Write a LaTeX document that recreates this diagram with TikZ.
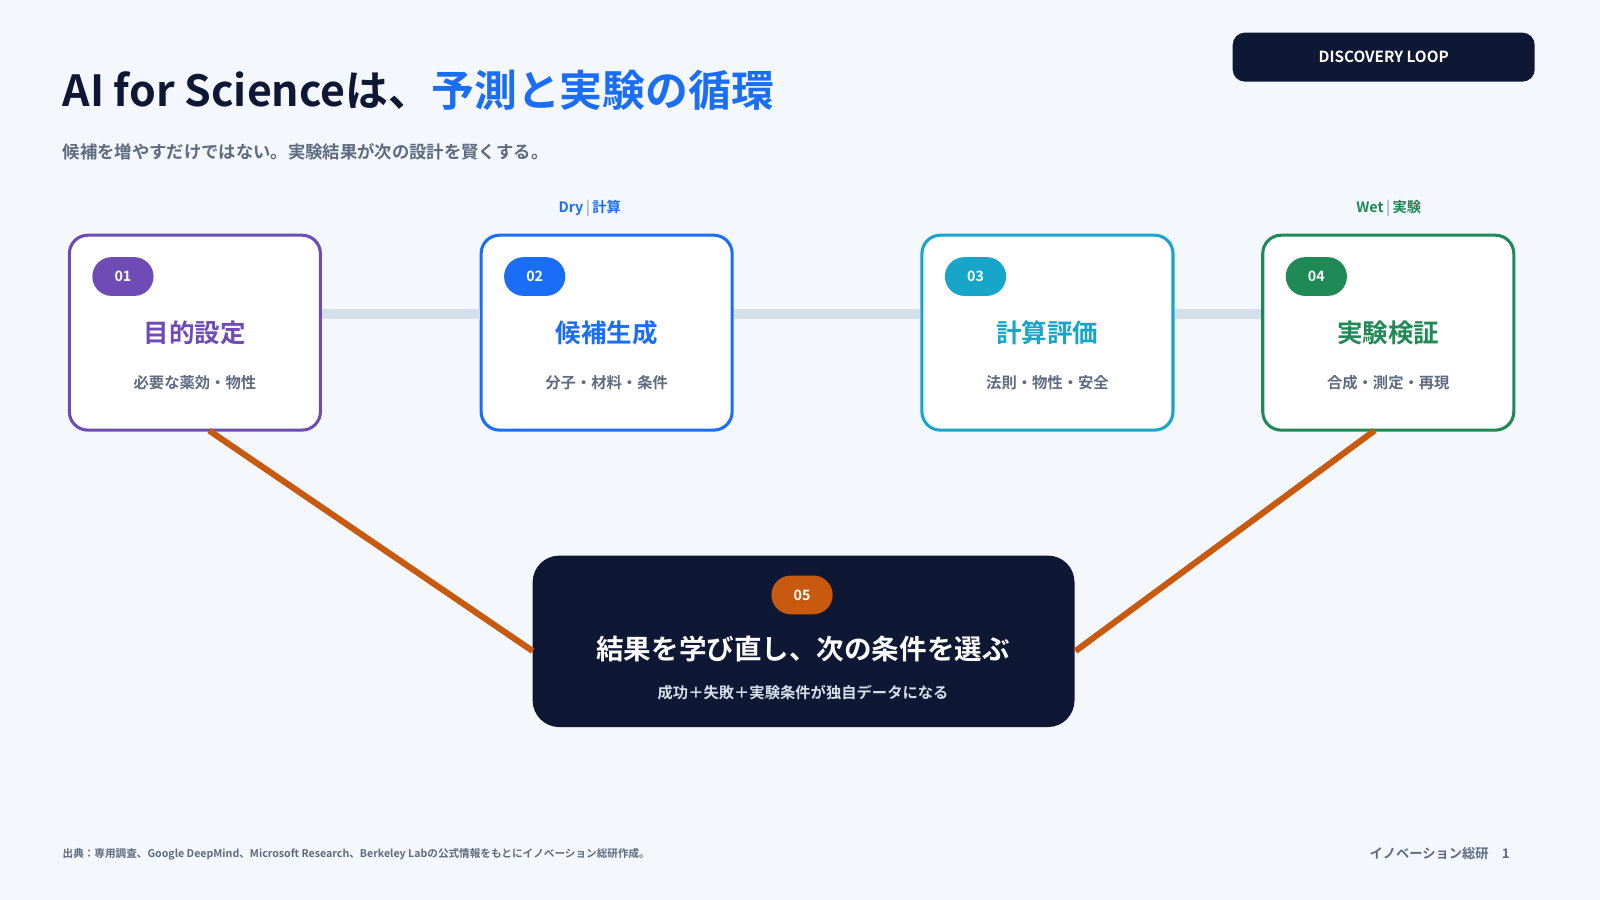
\documentclass[tikz,border=0pt]{standalone}
\usepackage{fontspec}
\setmainfont{Noto Sans CJK JP}[BoldFont={* Bold}]
\definecolor{bg}{HTML}{F4F7FC}
\definecolor{navy}{HTML}{0E1733}
\definecolor{cp}{HTML}{6F4BB5}
\definecolor{cb}{HTML}{1A6EF5}
\definecolor{cc}{HTML}{17A6C9}
\definecolor{cg}{HTML}{1F8A55}
\definecolor{co}{HTML}{C85A0F}
\definecolor{gr}{HTML}{5F6B80}
\definecolor{rail}{HTML}{D5DFEA}
\begin{document}
\begin{tikzpicture}[x=0.5pt,y=-0.5pt,
 card/.style={draw=#1,line width=1.5pt,fill=white,rounded corners=9pt,minimum width=123pt,minimum height=95.5pt,inner sep=0pt},
 badge/.style={fill=#1,rounded corners=9.5pt,minimum width=30pt,minimum height=19pt,inner sep=0pt,text=white,font=\bfseries\fontsize{7}{8}\selectfont},
 ctitle/.style={text=#1,font=\bfseries\fontsize{12.5}{14}\selectfont},
 csub/.style={text=gr,font=\bfseries\fontsize{7.5}{9}\selectfont},
 tag/.style={text=#1,font=\bfseries\fontsize{7}{8}\selectfont}]
\fill[bg] (0,0) rectangle (1568,882);
\useasboundingbox (0,0) rectangle (1568,882);
\node[anchor=west,font=\bfseries\fontsize{21}{25}\selectfont,text=navy,inner sep=0] (title) at (61,88) {AI for Scienceは、\textcolor{cb}{予測と実験の循環}};
\node[anchor=west,font=\bfseries\fontsize{8.5}{10}\selectfont,text=gr,inner sep=0] (sub) at (61,149) {候補を増やすだけではない。実験結果が次の設計を賢くする。};
\node[fill=navy,rounded corners=6pt,minimum width=148pt,minimum height=24pt,text=white,font=\bfseries\fontsize{7.5}{9}\selectfont] (dl) at (1356,56) {DISCOVERY LOOP};
\node[card=cp] (b1) at (191,326) {};
\node[card=cb] (b2) at (594.5,326) {};
\node[card=cc] (b3) at (1026.5,326) {};
\node[card=cg] (b4) at (1360.5,326) {};
\draw[rail,line width=5pt] ([yshift=9pt]b1.east) -- ([yshift=9pt]b2.west);
\draw[rail,line width=5pt] ([yshift=9pt]b2.east) -- ([yshift=9pt]b3.west);
\draw[rail,line width=5pt] ([yshift=9pt]b3.east) -- ([yshift=9pt]b4.west);
\foreach \n/\c/\num/\t/\s in {b1/cp/01/目的設定/必要な薬効・物性, b2/cb/02/候補生成/分子・材料・条件, b3/cc/03/計算評価/法則・物性・安全, b4/cg/04/実験検証/合成・測定・再現}{
 \node[badge=\c] (\n k) at ([xshift=27pt,yshift=-21pt]\n.north west) {\num};
 \node[ctitle=\c] (\n t) at ([yshift=0pt]\n.center) {\t};
 \node[csub] (\n s) at ([yshift=-24.5pt]\n.center) {\s};
}
\node[tag=cb] (dry) at (578,204) {Dry\,\textcolor{rail!60!gr}{|}\,計算};
\node[tag=cg] (wet) at (1361,204) {Wet\,\textcolor{rail!60!gr}{|}\,実験};
\node[fill=navy,rounded corners=13pt,minimum width=265.5pt,minimum height=84pt] (b5) at (787.5,628.5) {};
\coordinate (l1) at (205,422); \coordinate (l2) at (522,638);
\coordinate (r1) at (1347,422); \coordinate (r2) at (1054,638);
\draw[co,line width=3pt] (l1) -- (l2);
\draw[co,line width=3pt] (r1) -- (r2);
\node[badge=co] (b5k) at (786,583) {05};
\node[text=white,font=\bfseries\fontsize{13.5}{15}\selectfont] (b5t) at (787,636) {結果を学び直し、次の条件を選ぶ};
\node[text=rail,font=\bfseries\fontsize{7.5}{9}\selectfont] (b5s) at (787,679) {成功＋失敗＋実験条件が独自データになる};
\node[anchor=west,text=gr,font=\bfseries\fontsize{5.2}{6}\selectfont,inner sep=0] (src) at (61,837) {出典：専用調査、Google DeepMind、Microsoft Research、Berkeley Labの公式情報をもとにイノベーション総研作成。};
\node[anchor=east,text=gr,font=\bfseries\fontsize{6.5}{8}\selectfont,inner sep=0] (pg) at (1480,836) {イノベーション総研\quad 1};
\end{tikzpicture}
\end{document}
